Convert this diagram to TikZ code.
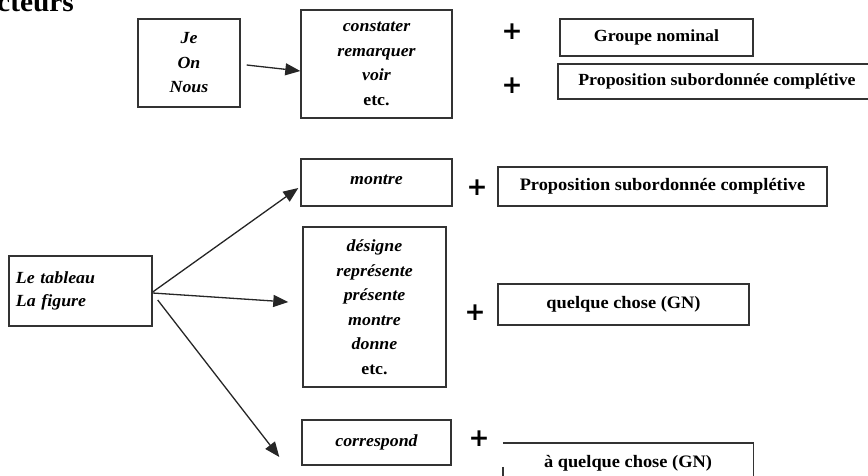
\documentclass[tikz,border=0pt]{standalone}
\usepackage{fontspec}
\setmainfont{Liberation Serif}[FakeStretch=1.05]
\newfontfamily\plusfont{DejaVu Sans}
\usetikzlibrary{arrows.meta}
\tikzset{
  bx/.style={draw=black!80, line width=1.4pt, inner sep=0pt, rectangle, align=center},
  itx/.style={font=\fontsize{17}{24.5}\selectfont\bfseries\itshape},
  rmx/.style={font=\fontsize{17}{24.5}\selectfont\bfseries},
  tmx/.style={font=\fontsize{17.5}{24.5}\selectfont\bfseries},
  plus/.style={font=\plusfont\bfseries\fontsize{25}{25}\selectfont, inner sep=0pt},
  arr/.style={line width=1.3pt, draw=black!85, -{Triangle[length=15pt,width=12pt]}}
}
\begin{document}
\begin{tikzpicture}[x=1pt,y=-1pt]
\useasboundingbox (0,0) rectangle (868,475);
\clip (0,0) rectangle (868,475);

\node[anchor=base west, inner sep=0pt, font=\fontsize{28}{28}\selectfont\bfseries] (head) at (-3,11.5) {cteurs};

% top section
\node[bx, itx, minimum width=102pt, minimum height=88pt] (je) at (189,63) {Je\\On\\Nous};
\node[bx, itx, minimum width=151pt, minimum height=108pt] (cons) at (376.5,64)
  {constater\\remarquer\\voir\\\normalfont\bfseries etc.};
\node[plus] (p1) at (512,32) {+};
\node[plus] (p2) at (512,86) {+};
\node[bx, rmx, minimum width=193pt, minimum height=37pt] (gn) at (656.5,37.5) {Groupe nominal};
\node[bx, rmx, minimum width=318pt, minimum height=35pt] (psc1) at (717,81.5) {Proposition subordonnée complétive};

\draw[arr] ([xshift=6pt,yshift=-2pt]je.east) -- ([yshift=-7pt]cons.west);

% bottom section
\node[bx, itx, align=left, minimum width=143pt, minimum height=70pt, text width=129pt, inner xsep=7pt, font=\fontsize{17}{23}\selectfont\bfseries\itshape] (tab) at (80.5,291) {Le tableau\\La figure};

\node[bx, itx, minimum width=151pt, minimum height=47pt] (mon) at (376.5,182.5) {\raisebox{5pt}{montre}};
\node[plus] (p3) at (477,188) {+};
\node[bx, tmx, minimum width=329pt, minimum height=39pt] (psc2) at (662.5,186.5) {Proposition subordonnée complétive};

\node[bx, itx, minimum width=143pt, minimum height=160pt] (des) at (374.5,307)
  {désigne\\représente\\présente\\montre\\donne\\\normalfont\bfseries etc.};
\node[plus] (p4) at (475,313) {+};
\node[bx, tmx, minimum width=251pt, minimum height=41pt] (qc) at (623.5,304.5) {quelque chose (GN)};

\node[bx, itx, minimum width=149pt, minimum height=45pt] (cor) at (376.5,442.5) {\raisebox{3pt}{correspond}};
\node[plus] (p5) at (479,439) {+};
\node[inner sep=0pt, tmx, minimum width=250pt, minimum height=40pt] (aqc) at (628,463) {\raisebox{4pt}{à quelque chose (GN)}};
\draw[black!80, line width=1.4pt] (aqc.north west) -- (aqc.north east) -- (aqc.south east);
\draw[black!80, line width=1.4pt] ([yshift=-24pt]aqc.north west) -- (aqc.south west);

\draw[arr] ([yshift=-1pt]tab.east) -- ([xshift=-2pt,yshift=-5.5pt]mon.west);
\draw[arr] ([yshift=-2pt]tab.east) -- ([xshift=-14pt,yshift=5pt]des.west);
\draw[arr] ([xshift=5pt,yshift=-9pt]tab.east) -- ([xshift=-22pt,yshift=-14.5pt]cor.west);
\end{tikzpicture}
\end{document}
